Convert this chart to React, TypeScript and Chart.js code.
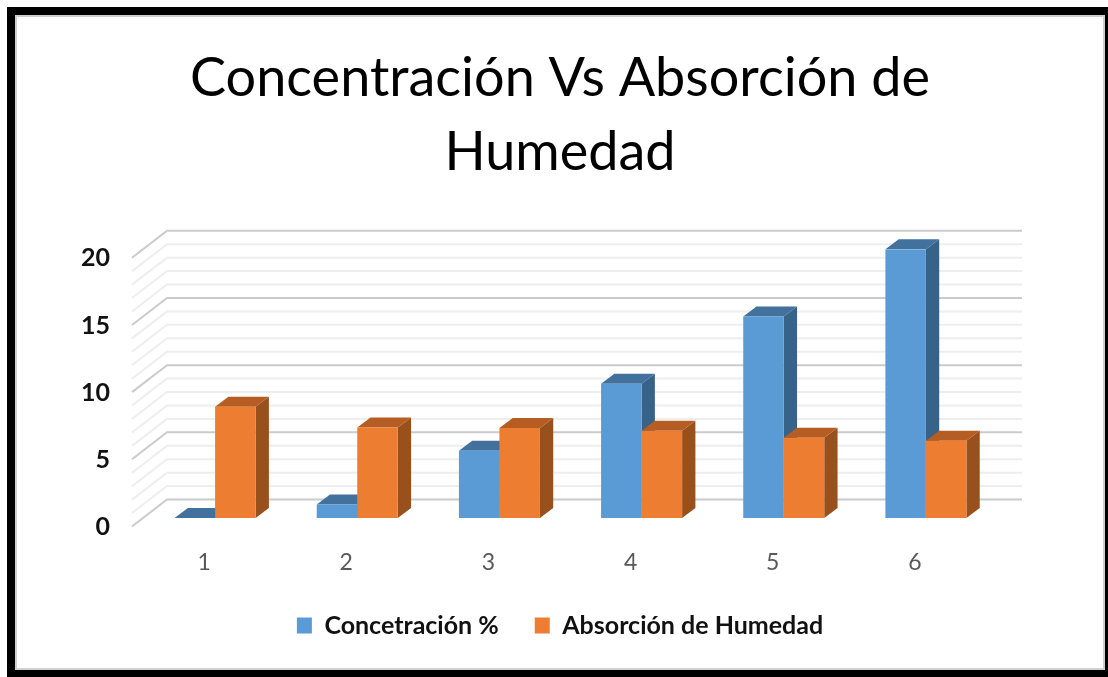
import React, { useEffect, useRef } from "react";
import { Chart, registerables } from "chart.js";

Chart.register(...registerables);

const titleLines = ["Concentración Vs Absorción de", "Humedad"];
const categories = ["1", "2", "3", "4", "5", "6"];
const concentracion = [0, 1, 5, 10, 15, 20];
const absorcion = [8.28, 6.73, 6.7, 6.5, 5.98, 5.74];
const labelConcentracion = "Concetración %";
const labelAbsorcion = "Absorción de Humedad";

const W = 1108;
const H = 677;
const FONT = "Lato, 'Open Sans', sans-serif";

const faceColors: Record<number, { top: string; side: string }> = {
  0: { top: "#41719C", side: "#376389" },
  1: { top: "#B55D22", side: "#98501D" },
};

const frame = {
  id: "frame",
  beforeDraw(chart: any) {
    const c = chart.ctx;
    c.save();
    c.fillStyle = "#fff";
    c.fillRect(0, 0, W, H);
    c.fillStyle = "#000";
    c.fillRect(7, 7, W - 7, H - 7);
    c.fillStyle = "#cfcfcf";
    c.fillRect(15, 15, 1090, 655);
    c.fillStyle = "#fff";
    c.fillRect(17, 17, 1086, 651);
    c.restore();
  },
};

function drawFaces(chart: any, index: number) {
  const meta = chart.getDatasetMeta(index);
  const colors = faceColors[index];
  const c = chart.ctx;
  const dx = 13.3;
  const dy = 10;
  c.save();
  meta.data.forEach((b: any) => {
    const l = b.x - b.width / 2;
    const r = b.x + b.width / 2;
    c.fillStyle = colors.side;
    c.beginPath();
    c.moveTo(r, b.y);
    c.lineTo(r + dx, b.y - dy);
    c.lineTo(r + dx, b.base - dy);
    c.lineTo(r, b.base);
    c.closePath();
    c.fill();
    c.fillStyle = colors.top;
    c.beginPath();
    c.moveTo(l, b.y);
    c.lineTo(l + dx, b.y - dy);
    c.lineTo(r + dx, b.y - dy);
    c.lineTo(r, b.y);
    c.closePath();
    c.fill();
  });
  c.restore();
}

const wall = {
  id: "wall",
  beforeDatasetsDraw(chart: any) {
    const y = chart.scales.y;
    const c = chart.ctx;
    c.save();
    y.ticks.forEach((t: any) => {
      const py = y.getPixelForValue(t.value);
      const major = t.value % 5 === 0;
      c.strokeStyle = major ? "#cbcbcb" : "#eeeeee";
      c.lineWidth = 2;
      c.beginPath();
      c.moveTo(132, py + 8.5);
      c.lineTo(167, py - 18.5);
      c.lineTo(1022, py - 18.5);
      c.stroke();
    });
    c.restore();
    // Blue depth faces go behind everything the orange bars draw.
    drawFaces(chart, 0);
  },
};

const depth = {
  id: "depth",
  beforeDatasetDraw(chart: any, args: any) {
    if (args.index === 1) drawFaces(chart, 1);
  },
};

export default function App() {
  const ref = useRef<HTMLCanvasElement>(null);
  useEffect(() => {
    if (!ref.current) return;
    const chart = new Chart(ref.current, {
      type: "bar",
      data: {
        labels: categories,
        datasets: [
          {
            label: labelConcentracion,
            data: concentracion,
            backgroundColor: "#5B9BD5",
            categoryPercentage: 0.57,
            barPercentage: 1,
          },
          {
            label: labelAbsorcion,
            data: absorcion,
            backgroundColor: "#ED7D31",
            categoryPercentage: 0.57,
            barPercentage: 1,
          },
        ],
      },
      options: {
        responsive: false,
        animation: false,
        layout: { padding: { left: 12, right: 0, top: 0, bottom: 29 } },
        plugins: {
          tooltip: { enabled: false },
          title: {
            display: true,
            text: titleLines,
            color: "#000",
            font: { family: FONT, size: 54, weight: "normal", lineHeight: 1.37 },
            padding: { top: 42, bottom: 59.3 },
            fullSize: true,
          },
          legend: {
            position: "bottom",
            fullSize: true,
            labels: {
              boxWidth: 15,
              boxHeight: 16,
              padding: 36,
              color: "#111",
              font: { family: FONT, size: 25, weight: "bold" },
            },
          },
        },
        scales: {
          x: {
            grid: { display: false, drawTicks: false },
            border: { display: false },
            afterFit: (s: any) => {
              s.height = 59;
            },
            ticks: {
              color: "#595959",
              font: { family: FONT, size: 23 },
              padding: 31,
              labelOffset: -11,
              maxRotation: 0,
            },
          },
          y: {
            min: 0,
            max: 20,
            grid: { display: false, drawTicks: false },
            border: { display: false },
            afterFit: (s: any) => {
              s.width = 132;
            },
            ticks: {
              stepSize: 1,
              autoSkip: false,
              color: "#111",
              font: { family: FONT, size: 25, weight: "bold" },
              padding: 34,
              labelOffset: 9,
              callback: (v: any) => (Number(v) % 5 === 0 ? String(v) : ""),
            },
          },
          rightGutter: {
            type: "linear",
            position: "right",
            display: true,
            grid: { display: false, drawTicks: false },
            border: { display: false },
            ticks: { display: false },
            afterFit: (s: any) => {
              s.width = 111;
            },
          },
        },
      },
      plugins: [frame, wall, depth],
    } as any);
    return () => chart.destroy();
  }, []);
  return (
    <div style={{ position: "fixed", left: 0, top: 0, width: W, height: H, background: "#fff" }}>
      <canvas ref={ref} width={W} height={H} style={{ display: "block", width: W, height: H }} />
    </div>
  );
}
